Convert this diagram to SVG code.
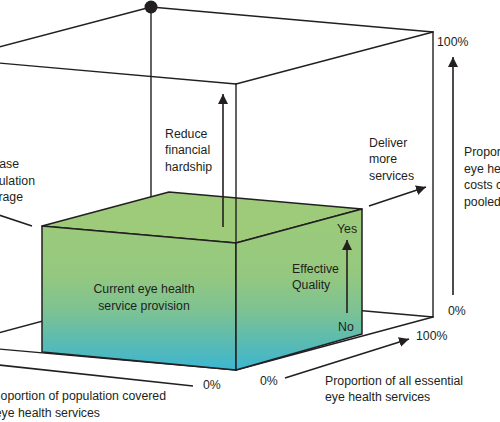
<svg xmlns="http://www.w3.org/2000/svg" width="500" height="422" viewBox="0 0 500 422">
<style>
.ln{stroke:#231f20;stroke-width:1.4;fill:none;stroke-linecap:round}
.bx{stroke:#231f20;stroke-width:1.5;stroke-linejoin:round}
.ar{stroke:#231f20;stroke-width:1.6;fill:none}
text{font-family:"Liberation Sans",Arial,sans-serif;font-size:12.3px;fill:#231f20}
</style>
<defs>
<marker id="ah" markerUnits="userSpaceOnUse" markerWidth="11" markerHeight="11" refX="10" refY="5" orient="auto">
<path d="M0,0 L10,5 L0,10 z" fill="#231f20"/>
</marker>
<linearGradient id="gf" gradientUnits="userSpaceOnUse" x1="0" y1="205" x2="0" y2="370">
<stop offset="0" stop-color="#9dcb7a"/>
<stop offset="0.42" stop-color="#95c87f"/>
<stop offset="0.64" stop-color="#7dc293"/>
<stop offset="0.83" stop-color="#5abbb2"/>
<stop offset="1" stop-color="#3db6d2"/>
</linearGradient>
</defs>
<g id="cube-back">
<line class="ln" x1="151" y1="7" x2="433" y2="32"/>
<line class="ln" x1="151" y1="7" x2="-47" y2="59"/>
<line class="ln" x1="-47" y1="59" x2="236" y2="84"/>
<line class="ln" x1="236" y1="84" x2="433" y2="32"/>
<line class="ln" x1="151" y1="7" x2="151" y2="200"/>
<line class="ln" x1="433" y1="32" x2="433" y2="317"/>
<line class="ln" x1="151" y1="292" x2="433" y2="317"/>
<line class="ln" x1="433" y1="317" x2="236" y2="370"/>
<line class="ln" x1="236" y1="370" x2="-47" y2="345"/>
<line class="ln" x1="-47" y1="345" x2="151" y2="292"/>
</g>
<g id="box">
<polygon class="bx" fill="#9dcb7a" points="42,226 169,192 362,209 236,243"/>
<polygon class="bx" fill="url(#gf)" points="42,226 236,243 236,370 42,352"/>
<polygon class="bx" fill="url(#gf)" points="236,243 362,209 362,334 236,370"/>
<text x="144" y="293" text-anchor="middle">Current eye health</text>
<text x="144" y="310" text-anchor="middle">service provision</text>
</g>
<g id="cube-front">
<line class="ln" x1="236" y1="84" x2="236" y2="243"/>
<circle cx="151" cy="7" r="6.5" fill="#231f20"/>
</g>
<g id="connectors">
<line class="ar" x1="223" y1="227" x2="223" y2="94" marker-end="url(#ah)"/>
<line class="ar" x1="369" y1="206" x2="426" y2="187" marker-end="url(#ah)"/>
<line class="ar" x1="347" y1="313" x2="347" y2="240" marker-end="url(#ah)"/>
<line class="ar" x1="453" y1="295" x2="453" y2="57" marker-end="url(#ah)"/>
<line class="ar" x1="285" y1="378" x2="409" y2="339" marker-end="url(#ah)"/>
<line class="ar" x1="32" y1="226" x2="-10" y2="212"/>
<line class="ar" x1="193" y1="386" x2="-10" y2="364"/>
</g>
<g id="labels">
<text x="165" y="137.5">Reduce</text>
<text x="165" y="154">financial</text>
<text x="165" y="170.5">hardship</text>
<text x="19" y="168" text-anchor="end">ease</text>
<text x="35" y="184.5" text-anchor="end">ulation</text>
<text x="23" y="201" text-anchor="end">rage</text>
<text x="369" y="147">Deliver</text>
<text x="369" y="163">more</text>
<text x="369" y="179.5">services</text>
<text x="464" y="156">Propor</text>
<text x="464" y="172.5">eye hea</text>
<text x="464" y="189">costs c</text>
<text x="464" y="205.5">pooled</text>
<text x="437" y="46">100%</text>
<text x="448" y="315">0%</text>
<text x="416" y="339.5">100%</text>
<text x="260" y="384.5">0%</text>
<text x="203" y="389">0%</text>
<text x="337" y="233">Yes</text>
<text x="338" y="331">No</text>
<text x="292" y="272.5">Effective</text>
<text x="292" y="288.5">Quality</text>
<text x="325" y="385">Proportion of all essential</text>
<text x="325" y="401">eye health services</text>
<text x="166" y="400" text-anchor="end">oportion of population covered</text>
<text x="100" y="417" text-anchor="end">eye health services</text>
</g>
</svg>
